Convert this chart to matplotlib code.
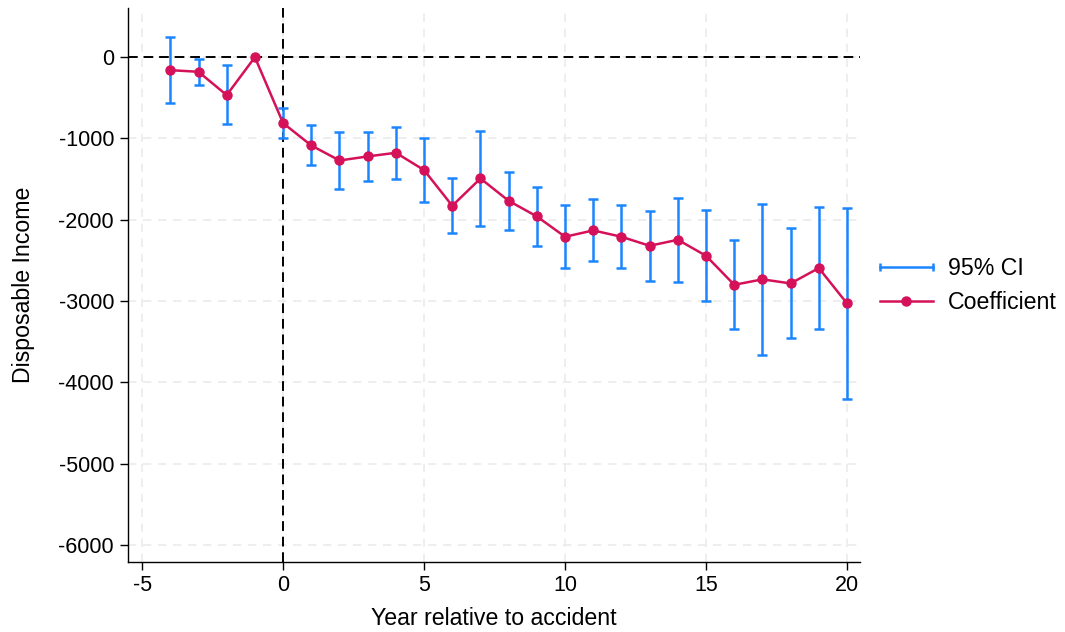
import matplotlib
matplotlib.use("Agg")
import matplotlib.pyplot as plt
from matplotlib.lines import Line2D
from matplotlib.legend_handler import HandlerLine2D

# Event-study estimates
years = [-4, -3, -2, -1, 0, 1, 2, 3, 4, 5, 6, 7, 8, 9, 10,
         11, 12, 13, 14, 15, 16, 17, 18, 19, 20]
coef = [-160, -180, -467, 0, -811, -1086, -1271, -1221, -1176, -1389,
        -1828, -1492, -1767, -1959, -2209, -2131, -2209, -2320, -2246, -2443,
        -2800, -2733, -2783, -2594, -3029]
ci_hi = [246, -20, -102, None, -623, -840, -926, -922, -857, -992,
         -1488, -906, -1410, -1595, -1820, -1750, -1824, -1894, -1734, -1877,
         -2250, -1804, -2107, -1844, -1861]
ci_lo = [-566, -340, -828, None, -996, -1328, -1619, -1525, -1504, -1779,
         -2168, -2078, -2123, -2324, -2594, -2508, -2598, -2750, -2763, -3004,
         -3348, -3664, -3451, -3344, -4201]

x_ticks = [-5, 0, 5, 10, 15, 20]
y_ticks = [-6000, -5000, -4000, -3000, -2000, -1000, 0]

CI_COLOR = "#1a85ff"
COEF_COLOR = "#d41159"
GRID_COLOR = "#ebebeb"
TICK_FS = 15.5
LABEL_FS = 16.7

plt.rcParams["font.family"] = ["Liberation Sans", "DejaVu Sans"]
plt.rcParams["axes.unicode_minus"] = False

fig = plt.figure(figsize=(10.65, 6.32), dpi=100)
ax = fig.add_axes([0.1202, 0.1108, 0.6873, 0.8762])

# CI bars (skip the reference year)
ci_x = [x for x, h in zip(years, ci_hi) if h is not None]
ci_c = [c for c, h in zip(coef, ci_hi) if h is not None]
ci_h = [h for h in ci_hi if h is not None]
ci_l = [l for l in ci_lo if l is not None]
yerr = [[c - l for c, l in zip(ci_c, ci_l)], [h - c for c, h in zip(ci_c, ci_h)]]
ax.errorbar(ci_x, ci_c, yerr=yerr, fmt="none", ecolor=CI_COLOR,
            elinewidth=1.8, capsize=3.6, capthick=1.8, zorder=3)

ax.plot(years, coef, color=COEF_COLOR, linewidth=1.8, marker="o",
        markersize=6.5, zorder=4)

# reference lines
ax.axhline(0, color="black", linestyle=(0, (5, 3)), linewidth=1.4, zorder=2)
ax.axvline(0, color="black", linestyle=(0, (5, 3)), linewidth=1.4, zorder=2)

ax.set_xlim(-5.5, 20.46)
ax.set_ylim(-6209, 602)
ax.set_xticks(x_ticks)
ax.set_yticks(y_ticks)
ax.grid(True, color=GRID_COLOR, linestyle=(0, (5, 4)), linewidth=1.2)
ax.set_axisbelow(True)

for side in ["top", "right"]:
    ax.spines[side].set_visible(False)
for side in ["left", "bottom"]:
    ax.spines[side].set_linewidth(1.0)

ax.tick_params(axis="both", labelsize=TICK_FS, length=6, width=1.0, direction="out")
ax.tick_params(axis="y", pad=4)
ax.set_xlabel("Year relative to accident", fontsize=LABEL_FS, labelpad=8)
ax.set_ylabel("Disposable Income", fontsize=LABEL_FS, labelpad=17)

ci_handle = Line2D([0], [0], color=CI_COLOR, linewidth=1.8, marker="|",
                   markersize=6, markeredgewidth=1.8)
coef_handle = Line2D([0], [0], color=COEF_COLOR, linewidth=1.8, marker="o",
                     markersize=6.5)
leg = fig.legend([ci_handle, coef_handle], ["95% CI", "Coefficient"],
                 loc="center left", bbox_to_anchor=(0.826, 0.548),
                 frameon=False, fontsize=LABEL_FS, handlelength=2.3,
                 handletextpad=0.65, labelspacing=0.45,
                 borderpad=0, borderaxespad=0,
                 handler_map={ci_handle: HandlerLine2D(numpoints=2, marker_pad=0)})

fig.savefig("out.png", dpi=100)
